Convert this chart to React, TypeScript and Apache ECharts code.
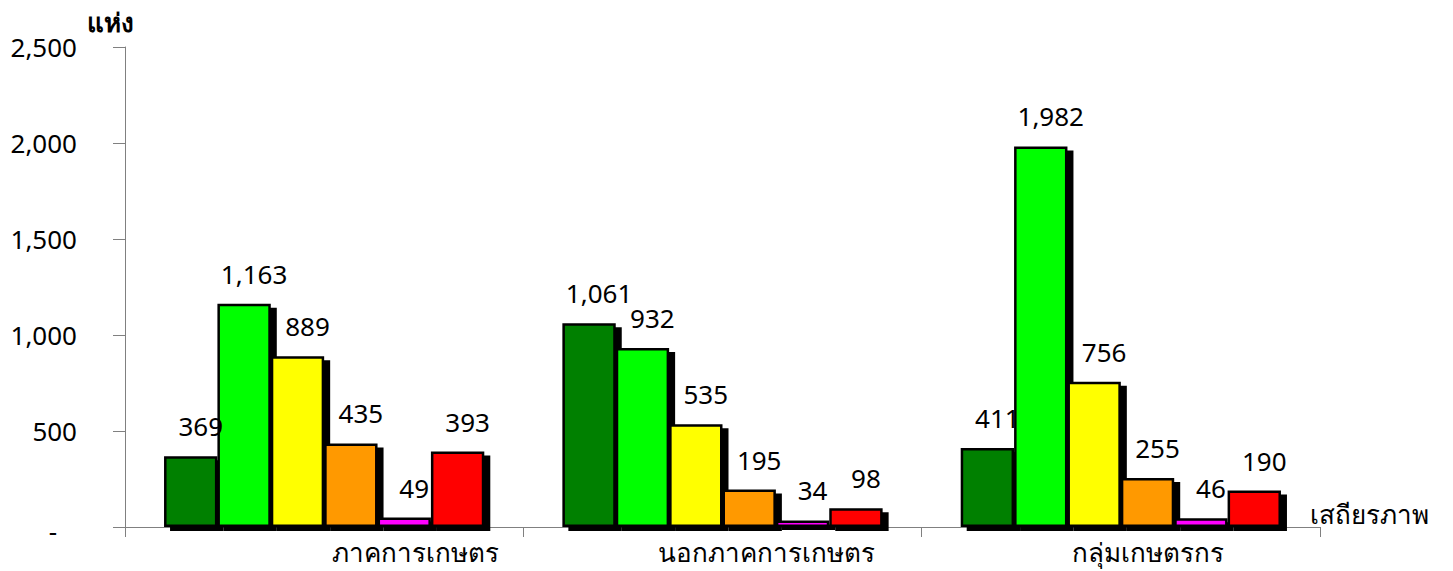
import React, { useEffect, useRef } from "react";
import * as echarts from "echarts";

const categories = ["ภาคการเกษตร", "นอกภาคการเกษตร", "กลุ่มเกษตรกร"];
const categoryLabelShift = [182, 88, 54];
const seriesNames = ["ระดับ 1", "ระดับ 2", "ระดับ 3", "ระดับ 4", "ระดับ 5", "ระดับ 6"];
const seriesColors = ["#008000", "#00FF00", "#FFFF00", "#FF9900", "#FF00FF", "#FF0000"];
const seriesValues = [
  [369, 1061, 411],
  [1163, 932, 1982],
  [889, 535, 756],
  [435, 195, 255],
  [49, 34, 46],
  [393, 98, 190],
];
const yTicks = { min: 0, max: 2500, interval: 500 };
const yName = "แห่ง";
const xName = "เสถียรภาพ";

const FONT = "Tahoma, 'Noto Sans', 'DejaVu Sans', sans-serif";

export default function App() {
  const ref = useRef<HTMLDivElement>(null);
  useEffect(() => {
    document.body.style.margin = "0";
    document.body.style.overflow = "hidden";
    if (!ref.current) return;
    const chart = echarts.init(ref.current, null, { renderer: "svg" });
    chart.setOption({
      animation: false,
      backgroundColor: "#ffffff",
      textStyle: { fontFamily: FONT },
      grid: { left: 125, right: 133, top: 47, bottom: 44, containLabel: false },
      xAxis: {
        type: "category",
        data: categories.map((c, i) => ({
          value: c,
          textStyle: { padding: [0, 0, 0, categoryLabelShift[i]] },
        })),
        name: xName,
        nameLocation: "end",
        nameGap: -10,
        nameTextStyle: {
          fontSize: 26,
          color: "#000",
          fontFamily: FONT,
          verticalAlign: "bottom",
          align: "left",
        },
        axisLine: { show: true, lineStyle: { color: "#808080", width: 1 } },
        axisTick: { show: true, length: 10, lineStyle: { color: "#808080" } },
        axisLabel: { fontSize: 26, color: "#000", margin: 12, fontFamily: FONT },
      },
      yAxis: {
        type: "value",
        min: yTicks.min,
        max: yTicks.max,
        interval: yTicks.interval,
        name: yName,
        nameLocation: "end",
        nameGap: 12,
        nameTextStyle: {
          fontSize: 26,
          fontWeight: "bold",
          color: "#000",
          fontFamily: FONT,
          padding: [0, 30, 0, 0],
        },
        splitLine: { show: false },
        axisLine: { show: true, lineStyle: { color: "#808080", width: 1 } },
        axisTick: { show: true, length: 12, lineStyle: { color: "#808080" } },
        axisLabel: {
          fontSize: 26,
          color: "#000",
          margin: 48,
          fontFamily: FONT,
          formatter: (v: number) => (v === 0 ? "{z|-}" : v.toLocaleString("en-US")),
          rich: { z: { fontSize: 26, padding: [8, 20, 0, 0], fontFamily: FONT } },
        },
      },
      series: seriesNames.map((name, i) => ({
        name,
        type: "bar",
        data: seriesValues[i],
        barGap: "0%",
        barCategoryGap: "19.6%",
        itemStyle: {
          color: seriesColors[i],
          borderColor: "#000",
          borderWidth: 2.5,
          shadowColor: "#000",
          shadowBlur: 0,
          shadowOffsetX: 6,
          shadowOffsetY: 4,
        },
        label: {
          show: true,
          position: "top",
          distance: 17,
          offset: [10, 0],
          fontSize: 26,
          color: "#000",
          fontFamily: FONT,
          formatter: (p: any) => Number(p.value).toLocaleString("en-US"),
        },
      })),
    });
    return () => chart.dispose();
  }, []);
  return <div ref={ref} style={{ width: 1453, height: 571, overflow: "hidden" }} />;
}
